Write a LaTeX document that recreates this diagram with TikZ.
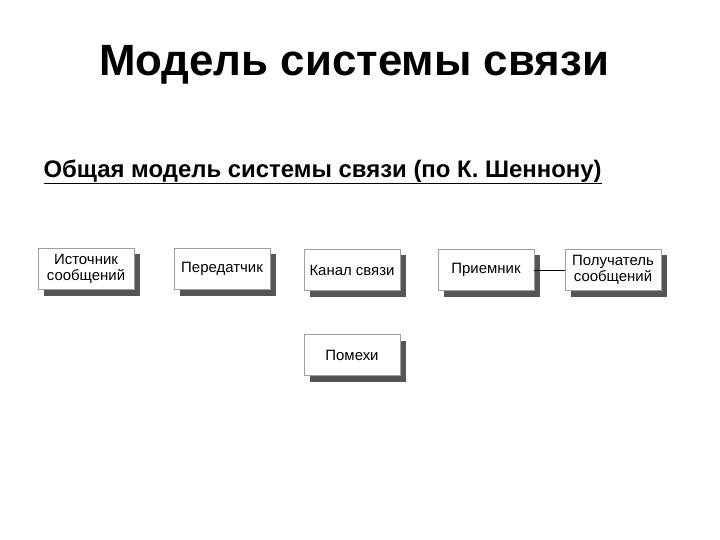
\documentclass[tikz,border=0pt]{standalone}
\usepackage{fontspec}
\setmainfont{Liberation Sans}
\usepackage{tikz}
\usetikzlibrary{positioning,shadows}
\definecolor{boxedge}{HTML}{A0A0A0}
\definecolor{shadowgray}{HTML}{555555}

\tikzset{
  blockbox/.style={
    draw=boxedge,
    fill=white,
    line width=0.6pt,
    minimum width=96bp,
    minimum height=41bp,
    align=center,
    inner sep=2pt,
    font=\fontsize{15}{16.5}\selectfont,
    drop shadow={shadow xshift=6bp, shadow yshift=-6bp, fill=shadowgray, opacity=1}
  }
}

\begin{document}
\begin{tikzpicture}[x=1bp,y=-1bp]
\useasboundingbox (0,0) rectangle (720,540);
\node[font=\fontsize{44}{50}\selectfont\bfseries] (title) at (354,65) {Модель системы связи};
\node[font=\fontsize{24}{28}\selectfont\bfseries, anchor=west] (subtitle) at (40,172) {\underline{Общая модель системы связи (по К. Шеннону)}};

\node[blockbox] (source) at (86,269) {Источник\\сообщений};
\node[blockbox] (transmitter) at (222,269) {Передатчик};
\node[blockbox] (channel) at (352,270) {Канал связи};
\node[blockbox] (receiver) at (486,270) {Приемник};
\node[blockbox] (recipient) at (613,270) {Получатель\\сообщений};
\node[blockbox] (noise) at (352,355) {Помехи};

\draw[line width=0.8pt] (receiver.east) -- (recipient.west);
\end{tikzpicture}
\end{document}
